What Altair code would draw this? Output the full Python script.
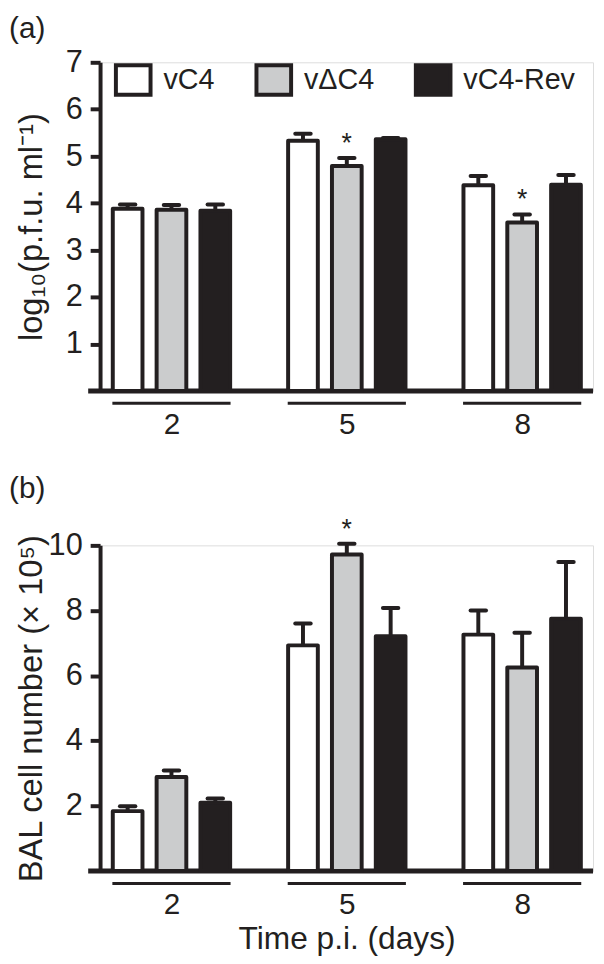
import altair as alt
import pandas as pd

# ---- data ----
days = ["2", "5", "8"]
series = ["vC4", "vΔC4", "vC4-Rev"]
fills = ["#ffffff", "#cbcccd", "#231f20"]
panel_labels = ["(a)", "(b)"]

# panel (a): log10 p.f.u./ml, ordered day-major, series-minor
pfu_mean = [3.88, 3.86, 3.84, 5.33, 4.79, 5.36, 4.38, 3.59, 4.39]
pfu_err = [0.09, 0.10, 0.13, 0.15, 0.17, 0.03, 0.20, 0.17, 0.21]
pfu_sig = ["", "", "", "", "*", "", "", "*", ""]
pfu_ticks = [1, 2, 3, 4, 5, 6, 7]

# panel (b): BAL cell number (x10^5)
bal_mean = [1.84, 2.89, 2.10, 6.93, 9.72, 7.21, 7.26, 6.25, 7.75]
bal_err = [0.15, 0.20, 0.13, 0.67, 0.33, 0.87, 0.74, 1.07, 1.74]
bal_sig = ["", "", "", "", "*", "", "", "", ""]
bal_ticks = [2, 4, 6, 8, 10]

ink = "#231f20"
FONT = "Liberation Sans"
W = 498


def make_df(mean, err, sig):
    rows = []
    k = 0
    for gi, d in enumerate(days):
        for si, s in enumerate(series):
            rows.append({"day": d, "g": gi, "s": si, "series": s,
                         "mean": mean[k], "err": err[k], "sig": sig[k]})
            k += 1
    return pd.DataFrame(rows)


def panel(mean, err, sig, ymax, ticks, ytitle, label, xtitle, legend, H, label_y):
    df = make_df(mean, err, sig)
    xscale = alt.Scale(domain=[-0.379, 2.376], nice=False, zero=False)
    label_expr = "[" + ",".join("'%s'" % d for d in days) + "][datum.value]"
    xaxis = alt.Axis(values=[0, 1, 2], labelExpr=label_expr, domain=False, ticks=False,
                     grid=False, labelPadding=19, labelFontSize=30, labelColor=ink,
                     labelFont=FONT, titleFontSize=32, titleFontWeight="normal",
                     titleFont=FONT, titleColor=ink, titlePadding=4)
    yscale = alt.Scale(domain=[0, ymax], nice=False, zero=True)
    yaxis = alt.Axis(values=ticks, grid=False, domainWidth=4, domainColor=ink,
                     tickWidth=4, tickSize=10, tickColor=ink, labelFontSize=31,
                     labelColor=ink, labelFont=FONT, labelPadding=8,
                     titleFontSize=33, titleFontWeight="normal", titleFont=FONT,
                     titleColor=ink, titleAngle=270, titleBaseline="bottom",
                     titleX=-52, titleY=H / 2)

    def X(f):
        return alt.X(f, type="quantitative", scale=xscale, axis=xaxis, title=xtitle)

    def Y(f):
        return alt.Y(f, type="quantitative", scale=yscale, axis=yaxis, title=ytitle)

    base = alt.Chart(df).transform_calculate(
        pos="datum.g + (datum.s - 1) * 0.25",
        upper="datum.mean + datum.err",
        cap_l="datum.g + (datum.s - 1) * 0.25 - 0.044",
        cap_r="datum.g + (datum.s - 1) * 0.25 + 0.044",
    )

    bars = base.mark_bar(size=30, stroke=ink, strokeWidth=4, strokeJoin="round").encode(
        x=X("pos"), y=Y("mean"),
        fill=alt.Fill("series:N", scale=alt.Scale(domain=series, range=fills), legend=legend),
    )
    err_line = base.mark_rule(strokeWidth=4, color=ink).encode(
        x=X("pos"), y=Y("mean"), y2="upper:Q")
    cap = base.mark_rule(strokeWidth=4, color=ink, strokeCap="round").encode(
        x=X("cap_l"), x2="cap_r:Q", y=Y("upper"))
    stars = base.transform_filter("datum.sig != ''").mark_text(
        fontSize=27, font=FONT, color=ink, baseline="middle", dy=-14).encode(
        x=X("pos"), y=Y("upper"), text="sig:N")

    axis_line = alt.Chart(pd.DataFrame({"zero": [0]})).mark_rule(
        strokeWidth=5, color=ink).encode(
        y=Y("zero"), x=alt.value(-12), x2=alt.value(W))
    under = alt.Chart(pd.DataFrame({"g": [0, 1, 2]})).transform_calculate(
        l="datum.g - 0.337", r="datum.g + 0.337").mark_rule(
        strokeWidth=3, color=ink).encode(x=X("l"), x2="r:Q", y=alt.value(H + 12.5))
    lab = alt.Chart(pd.DataFrame({"t": [label]})).mark_text(
        align="left", baseline="middle", fontSize=30, font=FONT, color=ink).encode(
        text="t:N", x=alt.value(-92), y=alt.value(label_y))

    return alt.layer(axis_line, under, bars, err_line, cap, stars, lab).properties(
        width=W, height=H)


legend_a = alt.Legend(orient="none", legendX=14, legendY=-2, direction="horizontal",
                      title=None, symbolType="M-1,-0.85H1V0.85H-1Z", symbolSize=1225,
                      symbolStrokeColor=ink, symbolStrokeWidth=4, labelFontSize=29,
                      labelFont=FONT, labelColor=ink, labelOffset=11, columnPadding=34,
                      padding=0, symbolOpacity=1)

pa = panel(pfu_mean, pfu_err, pfu_sig, 7, pfu_ticks, "log₁₀(p.f.u. ml⁻¹)",
           panel_labels[0], None, legend_a, 332, -34)
pb = panel(bal_mean, bal_err, bal_sig, 10, bal_ticks, "BAL cell number (× 10⁵)",
           panel_labels[1], "Time p.i. (days)", None, 329, -57)

chart = alt.vconcat(pa, pb, spacing=33).resolve_scale(fill="independent").resolve_legend(
    fill="independent").properties(padding=0).configure_view(stroke="transparent").configure(
    font=FONT)

chart.save("out.html", embed_options={"renderer": "svg", "actions": False})
